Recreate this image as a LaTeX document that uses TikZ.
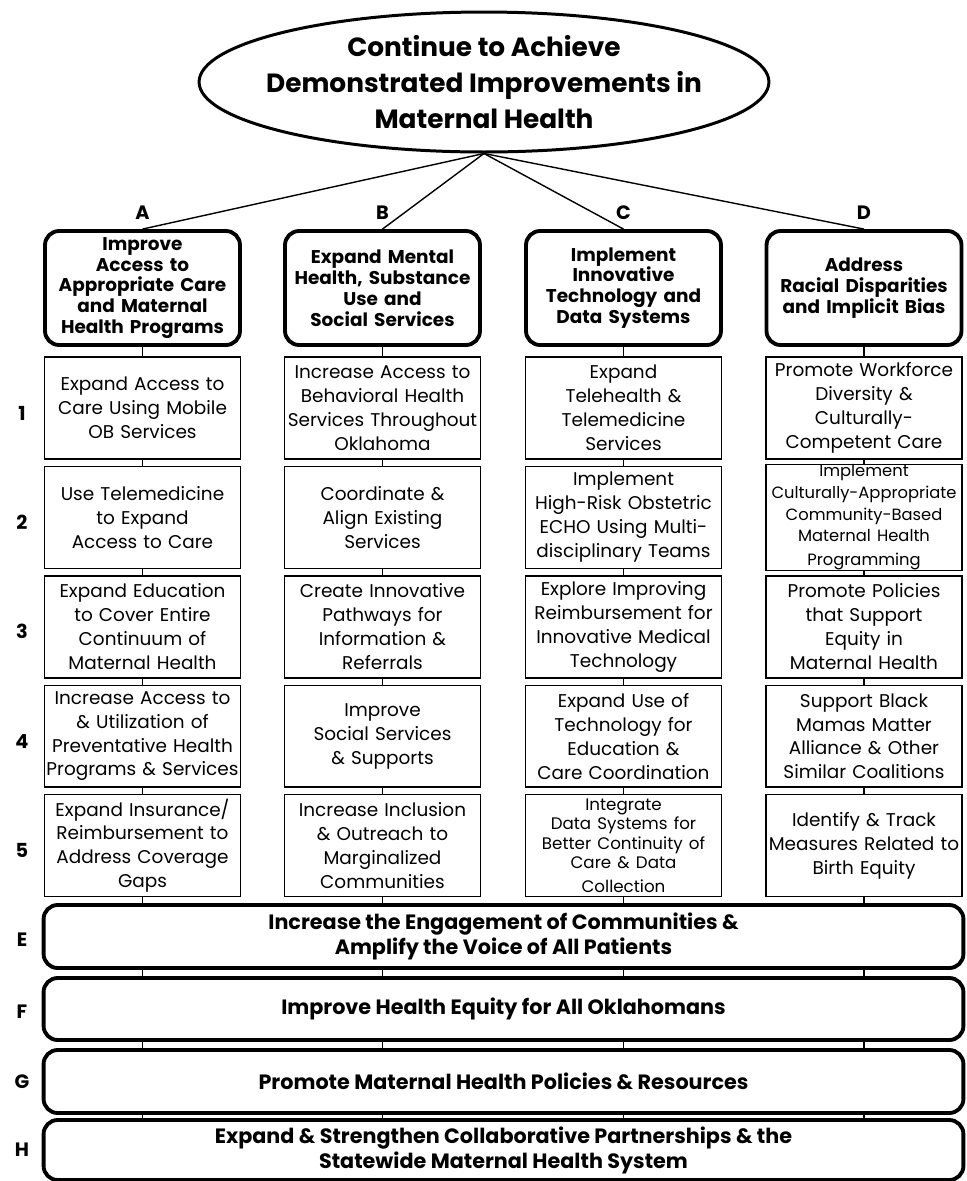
\documentclass[tikz,border=0pt]{standalone}
\usepackage{fontspec}
\setmainfont{Poppins}
\usetikzlibrary{shapes.geometric}

\begin{document}
\begin{tikzpicture}[x=0.02cm,y=-0.02cm,
  goal/.style={ellipse,draw,line width=1.7pt,inner xsep=-0.33cm,inner ysep=0pt,minimum width=11.4cm,minimum height=2.8cm,align=center,font=\fontsize{15}{20.4}\selectfont\bfseries},
  head/.style={draw,rounded corners=8pt,line width=2.2pt,minimum width=3.9cm,minimum height=2.28cm,text width=3.8cm,align=center,inner sep=1pt,font=\fontsize{10.5}{11.9}\selectfont\bfseries},
  item/.style={draw,line width=0.8pt,minimum width=3.92cm,minimum height=2.04cm,text width=3.9cm,align=center,inner sep=0pt,font=\fontsize{10.5}{13.6}\selectfont},
  bar/.style={draw,rounded corners=8pt,line width=2.2pt,minimum width=18.4cm,align=center,font=\fontsize{11.8}{14.2}\selectfont\bfseries},
  tag/.style={font=\fontsize{11}{13}\selectfont\bfseries}]
\useasboundingbox (0,0) rectangle (967,1181);

\node[goal] (goal) at (484,82) {Continue to Achieve\\Demonstrated Improvements in\\Maternal Health};

% strategies
\foreach \c/\x/\t in {A/142.5/{Improve\\Access to\\Appropriate Care\\and Maternal\\Health Programs},
                     B/382.5/{Expand Mental\\Health, Substance\\Use and\\Social Services},
                     C/623.5/{Implement\\Innovative\\Technology and\\Data Systems},
                     D/864/{Address\\Racial Disparities\\and Implicit Bias}}
{ \node[head] (h\c) at (\x,288) {\t};
  \node[tag] (t\c) at (\x,213) {\c};
  \draw[line width=0.8pt] (goal.south) -- (h\c.north); }

% activities
\foreach \c/\r/\t in {A/1/{Expand Access to\\Care Using Mobile\\OB Services},
                     A/2/{Use Telemedicine\\to Expand\\Access to Care},
                     A/3/{Expand Education\\to Cover Entire\\Continuum of\\Maternal Health},
                     A/4/{Increase Access to\\\& Utilization of\\Preventative Health\\\mbox{Programs \& Services}},
                     A/5/{Expand Insurance/\\Reimbursement to\\Address Coverage\\Gaps},
                     B/1/{Increase Access to\\Behavioral Health\\Services Throughout\\Oklahoma},
                     B/2/{Coordinate \&\\Align Existing\\Services},
                     B/3/{Create Innovative\\Pathways for\\Information \&\\Referrals},
                     B/4/{Improve\\Social Services\\\& Supports},
                     B/5/{Increase Inclusion\\\& Outreach to\\Marginalized\\Communities},
                     C/1/{Expand\\Telehealth \&\\Telemedicine\\Services},
                     C/2/{Implement\\High-Risk Obstetric\\ECHO Using Multi-\\disciplinary Teams},
                     C/3/{Explore Improving\\Reimbursement for\\Innovative Medical\\Technology},
                     C/4/{Expand Use of\\Technology for\\Education \&\\Care Coordination},
                     C/5/{\fontsize{9.5}{11}\selectfont Integrate\\Data Systems for\\Better Continuity of\\Care \& Data\\Collection},
                     D/1/{Promote Workforce\\Diversity \&\\Culturally-\\Competent Care},
                     D/2/{\fontsize{9.3}{12.4}\selectfont Implement\\Culturally-Appropriate\\Community-Based\\Maternal Health\\Programming},
                     D/3/{Promote Policies\\that Support\\Equity in\\Maternal Health},
                     D/4/{Support Black\\Mamas Matter\\Alliance \& Other\\Similar Coalitions},
                     D/5/{Identify \& Track\\Measures Related to\\Birth Equity}}
{ \node[item] (i\c\r) at (h\c |- 0,{408+109.4*(\r-1)}) {\t}; }

\foreach \r in {1,...,5}
  \node[tag] (n\r) at (22,{413+109.4*(\r-1)}) {\r};

% cross-cutting goals
\node[bar,minimum height=1.26cm] (bE) at (503.5,936.5) {Increase the Engagement of Communities \&\\Amplify the Voice of All Patients};
\node[bar,minimum height=1.24cm] (bF) at (503.5,1009) {Improve Health Equity for All Oklahomans};
\node[bar,minimum height=1.26cm] (bG) at (503.5,1081.5) {Promote Maternal Health Policies \& Resources};
\node[bar,minimum height=1.2cm] (bH) at (503.5,1150) {Expand \& Strengthen Collaborative Partnerships \& the\\Statewide Maternal Health System};
\foreach \g/\y in {E/940,F/1012,G/1082,H/1150}
  \node[tag] (n\g) at (22,\y) {\g};

% links
\foreach \c in {A,B,C,D}
{ \draw[line width=0.8pt] (h\c) -- (i\c1) (i\c1) -- (i\c2) (i\c2) -- (i\c3) (i\c3) -- (i\c4) (i\c4) -- (i\c5)
    (i\c5) -- (i\c5 |- bE.north)
    (bE.south -| i\c5) -- (bF.north -| i\c5)
    (bF.south -| i\c5) -- (bG.north -| i\c5)
    (bG.south -| i\c5) -- (bH.north -| i\c5); }
\end{tikzpicture}
\end{document}
